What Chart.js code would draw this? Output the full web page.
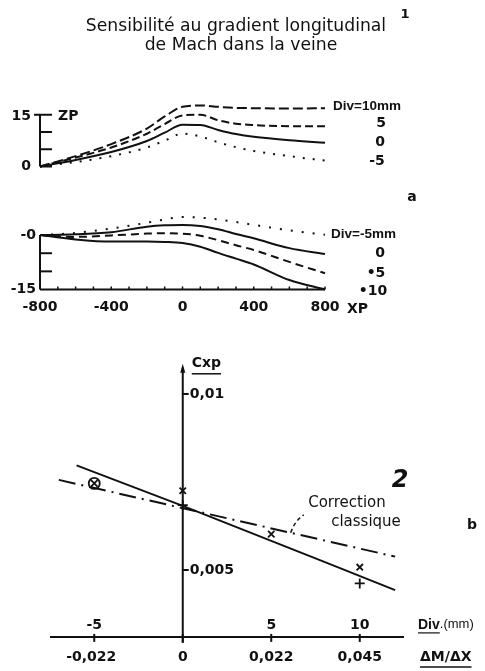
<!DOCTYPE html>
<html>
<head>
<meta charset="utf-8">
<script src="https://cdn.jsdelivr.net/npm/chart.js@4.4.1/dist/chart.umd.min.js"></script>
<style>
  body { margin: 0; background: #fff; }
  #wrap { position: relative; width: 485px; height: 671px; }
  #wrap canvas { position: absolute; left: 0; top: 0; }
</style>
</head>
<body>
<div id="wrap">
  <canvas id="zpUpper" width="485" height="671"></canvas>
  <canvas id="zpLower" width="485" height="671"></canvas>
  <canvas id="cxpChart" width="485" height="671"></canvas>
</div>
<script>
// Panneau a : ZP en fonction de XP, pour plusieurs divergences
const xpGrid = [-800, -600, -400, -200, -100, 0, 100, 200, 300, 400, 600, 800];
const xpTicks = [-800, -400, 0, 400, 800];
const zpUpperTicks = [0, 5, 10, 15];
const zpLowerTicks = [0, -5, -10, -15];

const zpUpDiv10 = [0, 3.0, 6.5, 11.0, 14.5, 17.3, 17.7, 17.3, 17.0, 16.9, 16.8, 16.9];
const zpUpDiv5 = [0, 2.6, 5.5, 9.5, 12.3, 14.8, 15.0, 13.4, 12.4, 12.0, 11.7, 11.7];
const zpUpDiv0 = [0, 1.9, 4.2, 7.4, 9.8, 12.1, 12.0, 10.6, 9.4, 8.6, 7.6, 6.9];
const zpUpDivM5 = [0, 1.3, 3.0, 5.5, 7.5, 9.5, 8.7, 7.0, 5.6, 4.5, 3.0, 1.7];
const upperLabels = ["Div=10mm", "5", "0", "-5"];

const zpLowDivM5 = [0, 0.6, 1.8, 3.4, 4.3, 5.0, 4.8, 4.3, 3.6, 2.8, 1.3, 0.1];
const zpLowDiv0 = [0, 0.2, 0.8, 2.3, 2.7, 2.8, 2.5, 1.6, 0.3, -0.9, -3.6, -5.2];
const zpLowDiv5 = [0, -0.5, -0.1, 0.4, 0.5, 0.4, -0.2, -1.4, -2.8, -4.1, -7.4, -10.5];
const zpLowDiv10 = [0, -1.2, -1.8, -1.8, -1.9, -2.2, -3.2, -4.9, -6.5, -8.1, -12.4, -15.0];
const lowerLabels = ["Div=-5mm", "0", "5", "10"];

// Panneau b : Cxp en fonction de la divergence
const divTicks = [-5, 0, 5, 10];
const gradTicks = ["-0,022", "0", "0,022", "0,045"];
const cxpTicks = [0.01, 0.005];
const cxpTickLabels = ["0,01", "0,005"];
const fitDiv = [-6, 0, 12];
const fitCxp = [0.00797, 0.00682, 0.00443];
const corrDiv = [-7, 12];
const corrCxp = [0.00756, 0.00538];
const crossDiv = [-5, 0, 5, 10];
const crossCxp = [0.00746, 0.00725, 0.00602, 0.00508];
const plusDiv = [0, 10];
const plusCxp = [0.00684, 0.00462];
const circleDiv = [-5];
const circleCxp = [0.00746];

const W = 485, H = 671;
const INK = "#111";
const SANS = '"DejaVu Sans", sans-serif';
const NARROW = '"Liberation Sans", Arial, sans-serif';

const pts = (xs, ys) => xs.map((x, i) => ({ x: x, y: ys[i] }));

function curve(xs, ys, dash) {
  return {
    data: pts(xs, ys),
    showLine: true,
    borderColor: INK,
    borderWidth: 2,
    borderDash: dash,
    pointRadius: 0,
    cubicInterpolationMode: "monotone",
    clip: false,
  };
}

function marks(xs, ys, style, radius) {
  return {
    data: pts(xs, ys),
    showLine: false,
    pointStyle: style,
    pointRadius: radius,
    pointBorderColor: INK,
    pointBackgroundColor: "rgba(0,0,0,0)",
    pointBorderWidth: 1.8,
    clip: false,
  };
}

function text(ctx, str, x, y, font, align) {
  ctx.font = font;
  ctx.textAlign = align || "left";
  ctx.textBaseline = "middle";
  ctx.fillStyle = INK;
  ctx.fillText(str, x, y);
  return ctx.measureText(str).width;
}

function seg(ctx, x1, y1, x2, y2, width) {
  ctx.lineWidth = width || 2;
  ctx.beginPath();
  ctx.moveTo(x1, y1);
  ctx.lineTo(x2, y2);
  ctx.stroke();
}

function panel(id, area, xRange, yRange, datasets, drawAxes) {
  return new Chart(document.getElementById(id), {
    type: "scatter",
    data: { datasets: datasets },
    options: {
      responsive: false,
      animation: false,
      events: [],
      layout: {
        padding: { left: area[0], top: area[1], right: W - area[2], bottom: H - area[3] },
      },
      scales: {
        x: { type: "linear", display: false, min: xRange[0], max: xRange[1] },
        y: { type: "linear", display: false, min: yRange[0], max: yRange[1] },
      },
      plugins: { legend: { display: false }, tooltip: { enabled: false } },
    },
    plugins: [{ id: id + "Axes", afterDraw: drawAxes }],
  });
}

// Graphique a, partie haute
panel("zpUpper", [40, 104.4, 325, 166.5], [-800, 800], [0, 18], [
  curve(xpGrid, zpUpDiv10, [10, 4]),
  curve(xpGrid, zpUpDiv5, [8, 4]),
  curve(xpGrid, zpUpDiv0, []),
  curve(xpGrid, zpUpDivM5, [2, 8]),
], (chart) => {
  const { ctx } = chart;
  const x = chart.scales.x, y = chart.scales.y;
  const x0 = x.getPixelForValue(xpGrid[0]);
  ctx.save();
  ctx.strokeStyle = INK;
  seg(ctx, x0, y.getPixelForValue(0), x0, y.getPixelForValue(15));
  zpUpperTicks.forEach((v) => {
    const py = y.getPixelForValue(v);
    seg(ctx, v === 15 ? x0 - 6 : x0, py, x0 + 12, py);
  });
  text(ctx, "15", x0 - 9, y.getPixelForValue(15) + 2, "bold 14px " + SANS, "right");
  text(ctx, "0", x0 - 9, y.getPixelForValue(0), "bold 14px " + SANS, "right");
  text(ctx, "ZP", x0 + 18, y.getPixelForValue(15) + 2, "bold 14px " + SANS);

  // titre
  text(ctx, "Sensibilité au gradient longitudinal", 236, 27, "17.2px " + SANS, "center");
  text(ctx, "de Mach dans la veine", 241, 46, "17.2px " + SANS, "center");
  text(ctx, "1", 405, 15, "bold 13px " + SANS, "center");

  // repères des courbes
  const ends = [zpUpDiv10, zpUpDiv5, zpUpDiv0, zpUpDivM5].map((s) => y.getPixelForValue(s[s.length - 1]));
  text(ctx, upperLabels[0], 333, ends[0] - 2, "bold 13.5px " + NARROW);
  text(ctx, upperLabels[1], 381, ends[1] - 3, "bold 14px " + SANS, "center");
  text(ctx, upperLabels[2], 380, ends[2], "bold 14px " + SANS, "center");
  text(ctx, upperLabels[3], 377, ends[3] + 1, "bold 14px " + SANS, "center");
  text(ctx, "a", 412, 197, "bold 14px " + SANS, "center");
  ctx.restore();
});

// Graphique a, partie basse
panel("zpLower", [40, 213.3, 325, 289.5], [-800, 800], [-15, 6], [
  curve(xpGrid, zpLowDivM5, [2, 9]),
  curve(xpGrid, zpLowDiv0, []),
  curve(xpGrid, zpLowDiv5, [8, 5]),
  curve(xpGrid, zpLowDiv10, []),
], (chart) => {
  const { ctx } = chart;
  const x = chart.scales.x, y = chart.scales.y;
  const x0 = x.getPixelForValue(xpGrid[0]);
  const yb = y.getPixelForValue(-15);
  ctx.save();
  ctx.strokeStyle = INK;
  seg(ctx, x0, y.getPixelForValue(0), x0, yb);
  seg(ctx, x0, yb, x.getPixelForValue(800), yb);
  zpLowerTicks.forEach((v) => {
    const py = y.getPixelForValue(v);
    if (v !== -15) seg(ctx, x0, py, x0 + 12, py);
  });
  for (let v = -700; v <= 800; v += 100) {
    const px = x.getPixelForValue(v);
    seg(ctx, px, yb, px, yb - 3, 1.5);
  }
  text(ctx, "-0", x0 - 4, y.getPixelForValue(0), "bold 14px " + SANS, "right");
  text(ctx, "-15", x0 - 4, yb, "bold 14px " + SANS, "right");
  xpTicks.forEach((v) => {
    text(ctx, String(v), x.getPixelForValue(v), yb + 18, "bold 14px " + SANS, "center");
  });
  text(ctx, "XP", 347, yb + 20, "bold 14px " + SANS);

  const ends = [zpLowDivM5, zpLowDiv0, zpLowDiv5, zpLowDiv10].map((s) => y.getPixelForValue(s[s.length - 1]));
  text(ctx, lowerLabels[0], 331, ends[0], "bold 13.5px " + NARROW);
  text(ctx, lowerLabels[1], 380, ends[1] - 1, "bold 14px " + SANS, "center");
  text(ctx, "•" + lowerLabels[2], 376, ends[2], "bold 14px " + SANS, "center");
  text(ctx, "•" + lowerLabels[3], 373, ends[3] + 2, "bold 14px " + SANS, "center");
  ctx.restore();
});

// Graphique b
panel("cxpChart", [50, 365.8, 404, 636.9], [-7.5, 12.5], [0.0031, 0.0108], [
  curve(fitDiv, fitCxp, []),
  Object.assign(curve(corrDiv, corrCxp, [17, 6, 2, 6]), { cubicInterpolationMode: "default" }),
  marks(crossDiv, crossCxp, "crossRot", 4.5),
  marks(plusDiv, plusCxp, "cross", 5),
  marks(circleDiv, circleCxp, "circle", 5.5),
], (chart) => {
  const { ctx } = chart;
  const x = chart.scales.x, y = chart.scales.y;
  const ax = x.getPixelForValue(0);
  const yb = y.getPixelForValue(y.min);
  const yt = y.getPixelForValue(y.max) + 2;
  ctx.save();
  ctx.strokeStyle = INK;
  ctx.fillStyle = INK;
  // axe vertical avec flèche
  seg(ctx, ax, yb + 6, ax, yt);
  ctx.beginPath();
  ctx.moveTo(ax, yt - 4);
  ctx.lineTo(ax - 2.5, yt + 5);
  ctx.lineTo(ax + 2.5, yt + 5);
  ctx.closePath();
  ctx.fill();
  cxpTicks.forEach((v, i) => {
    const py = y.getPixelForValue(v);
    seg(ctx, ax, py, ax + 6, py);
    text(ctx, cxpTickLabels[i], ax + 7, py, "bold 14px " + SANS);
  });
  const w = text(ctx, "Cxp", ax + 9, yt - 4, "bold 14px " + SANS);
  seg(ctx, ax + 9, yt + 6, ax + 9 + w, yt + 6, 1.5);

  // axe horizontal
  seg(ctx, x.getPixelForValue(x.min), yb, x.getPixelForValue(x.max), yb);
  divTicks.forEach((v, i) => {
    const px = x.getPixelForValue(v);
    seg(ctx, px, yb - 3, px, yb + 5);
    if (v !== 0) text(ctx, String(v), px, yb - 12, "bold 14px " + SANS, "center");
    text(ctx, gradTicks[i], px - (i === 0 ? 3 : 0), yb + 20, "bold 14px " + SANS, "center");
  });
  const wd = text(ctx, "Div", 418, yb - 12, "bold 14px " + NARROW);
  seg(ctx, 418, yb - 4, 418 + wd, yb - 4, 1.2);
  text(ctx, ".(mm)", 418 + wd, yb - 12, "13px " + NARROW);
  const wg = text(ctx, "ΔM/ΔX", 420, yb + 20, "bold 14px " + SANS);
  seg(ctx, 420, yb + 30, 420 + wg, yb + 30, 1.5);

  // annotations
  text(ctx, "Correction", 347, 503, "15px " + SANS, "center");
  text(ctx, "classique", 366, 522, "15px " + SANS, "center");
  const lx = x.getPixelForValue(6.1);
  const ly = y.getPixelForValue(corrCxp[0] + (6.1 - corrDiv[0]) * (corrCxp[1] - corrCxp[0]) / (corrDiv[1] - corrDiv[0]));
  ctx.setLineDash([4, 3]);
  ctx.beginPath();
  ctx.moveTo(lx, ly);
  ctx.quadraticCurveTo(lx + 4, ly - 12, lx + 13, ly - 18);
  ctx.lineWidth = 1.5;
  ctx.stroke();
  ctx.setLineDash([]);
  text(ctx, "2", 400, 481, "italic bold 24px " + SANS, "center");
  text(ctx, "b", 472, 525, "bold 14px " + SANS, "center");
  ctx.restore();
});
</script>
</body>
</html>
